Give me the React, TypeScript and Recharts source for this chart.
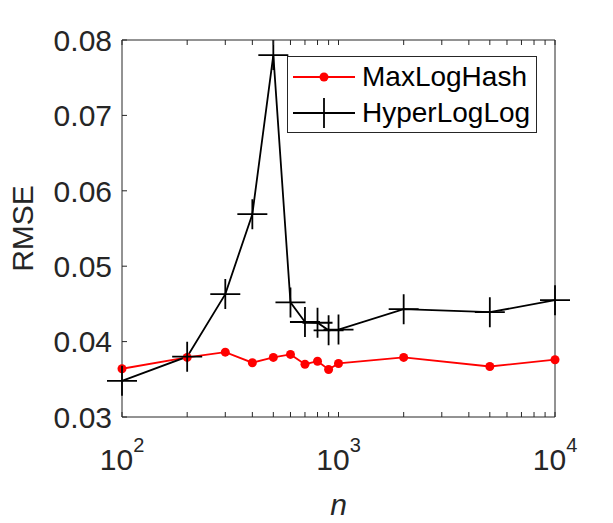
import { Legend, Line, LineChart, XAxis, YAxis } from "recharts";

const nValues = [100, 200, 300, 400, 500, 600, 700, 800, 900, 1000, 2000, 5000, 10000];
const maxLogHash = [
  0.0364, 0.0379, 0.0386, 0.0372, 0.0379, 0.0383, 0.037, 0.0374, 0.0363, 0.0371, 0.0379,
  0.0367, 0.0376,
];
const hyperLogLog = [
  0.0348, 0.038, 0.0463, 0.0569, 0.078, 0.0452, 0.0426, 0.0425, 0.0415, 0.0416, 0.0443,
  0.0439, 0.0455,
];
const xTicks = [
  100, 200, 300, 400, 500, 600, 700, 800, 900, 1000, 2000, 3000, 4000, 5000, 6000, 7000,
  8000, 9000, 10000,
];
const xMajor = [100, 1000, 10000];
const yTicks = [0.03, 0.04, 0.05, 0.06, 0.07, 0.08];

const rows = nValues.map((n, i) => ({
  n,
  maxLogHash: maxLogHash[i],
  hyperLogLog: hyperLogLog[i],
}));

const FONT = '"Liberation Sans", Arial, Helvetica, sans-serif';
const AXIS = "#262626";
const TICK = 5;
const RED = "#ff0000";

function BottomTick({ x, y, payload }: any) {
  const v = payload.value;
  const major = xMajor.includes(v);
  return (
    <g>
      <line x1={x} x2={x} y1={y} y2={y - TICK} stroke={AXIS} strokeWidth={1} />
      {major && (
        <text x={x} y={y + 53} textAnchor="middle" fontSize={30} fill={AXIS}>
          10
          <tspan dy={-18} fontSize={20}>
            {Math.round(Math.log10(v))}
          </tspan>
        </text>
      )}
    </g>
  );
}

function TopTick({ x, y }: any) {
  return <line x1={x} x2={x} y1={y} y2={y + TICK} stroke={AXIS} strokeWidth={1} />;
}

function LeftTick({ x, y, payload }: any) {
  return (
    <g>
      <line x1={x} x2={x + TICK} y1={y} y2={y} stroke={AXIS} strokeWidth={1} />
      <text x={x - 10} y={y} dy="0.36em" textAnchor="end" fontSize={30} fill={AXIS}>
        {Number(payload.value).toFixed(2)}
      </text>
    </g>
  );
}

function RightTick({ x, y }: any) {
  return <line x1={x} x2={x - TICK} y1={y} y2={y} stroke={AXIS} strokeWidth={1} />;
}

function YLabel(props: any) {
  const vb = props.viewBox ?? { x: 0, y: 40, width: 122, height: 377 };
  const cx = vb.x + 33;
  const cy = vb.y + vb.height / 2;
  return (
    <text
      x={cx}
      y={cy}
      transform={`rotate(-90 ${cx} ${cy})`}
      textAnchor="middle"
      fontSize={30}
      fill={AXIS}
    >
      RMSE
    </text>
  );
}

function XLabel(props: any) {
  const vb = props.viewBox ?? { x: 122, y: 417, width: 433, height: 106 };
  return (
    <text
      x={vb.x + vb.width / 2}
      y={vb.y + vb.height - 8}
      textAnchor="middle"
      fontSize={30}
      fontStyle="italic"
      fill={AXIS}
    >
      n
    </text>
  );
}

function PlusDot({ cx, cy }: any) {
  if (cx == null || cy == null) return null;
  return (
    <path
      d={`M${cx - 15},${cy}H${cx + 15}M${cx},${cy - 15}V${cy + 15}`}
      stroke="#000"
      strokeWidth={1.8}
      fill="none"
    />
  );
}

function LegendBox() {
  const row = { display: "flex", alignItems: "center", height: 36 } as const;
  return (
    <div
      style={{
        boxSizing: "border-box",
        width: 250,
        height: 77,
        border: `1px solid ${AXIS}`,
        background: "#fff",
        paddingTop: 2,
        fontFamily: FONT,
        fontSize: 28,
        lineHeight: 1,
        color: "#000",
      }}
    >
      <div style={row}>
        <svg width={74} height={36}>
          <line x1={5} x2={67} y1={18} y2={18} stroke={RED} strokeWidth={1.8} />
          <circle cx={36} cy={18} r={4.5} fill={RED} />
        </svg>
        <span>MaxLogHash</span>
      </div>
      <div style={row}>
        <svg width={74} height={36}>
          <line x1={5} x2={67} y1={18} y2={18} stroke="#000" strokeWidth={1.8} />
          <line x1={36} x2={36} y1={3} y2={33} stroke="#000" strokeWidth={1.8} />
        </svg>
        <span>HyperLogLog</span>
      </div>
    </div>
  );
}

export default function App() {
  return (
    <div style={{ position: "absolute", left: 0, top: 0, fontFamily: FONT, background: "#fff" }}>
      <LineChart
        width={613}
        height={523}
        data={rows}
        margin={{ top: 39, right: 57, bottom: 0, left: 0 }}
      >
        <XAxis
          dataKey="n"
          type="number"
          scale="log"
          domain={[100, 10000]}
          ticks={xTicks}
          interval={0}
          height={106}
          tickSize={0}
          tickMargin={0}
          tickLine={false}
          tick={<BottomTick />}
          axisLine={{ stroke: AXIS, strokeWidth: 1 }}
          label={<XLabel />}
        />
        <XAxis
          xAxisId="top"
          dataKey="n"
          orientation="top"
          type="number"
          scale="log"
          domain={[100, 10000]}
          ticks={xTicks}
          interval={0}
          height={1}
          tickSize={0}
          tickMargin={0}
          tickLine={false}
          tick={<TopTick />}
          axisLine={{ stroke: AXIS, strokeWidth: 1 }}
        />
        <YAxis
          type="number"
          domain={[0.03, 0.08]}
          ticks={yTicks}
          interval={0}
          width={122}
          tickSize={0}
          tickMargin={0}
          tickLine={false}
          tick={<LeftTick />}
          axisLine={{ stroke: AXIS, strokeWidth: 1 }}
          label={<YLabel />}
        />
        <YAxis
          yAxisId="right"
          orientation="right"
          type="number"
          domain={[0.03, 0.08]}
          ticks={yTicks}
          interval={0}
          width={1}
          tickSize={0}
          tickMargin={0}
          tickLine={false}
          tick={<RightTick />}
          axisLine={{ stroke: AXIS, strokeWidth: 1 }}
        />
        <Line
          dataKey="maxLogHash"
          stroke={RED}
          strokeWidth={1.8}
          dot={{ r: 4.5, fill: RED, stroke: RED, strokeWidth: 0 }}
          isAnimationActive={false}
        />
        <Line
          dataKey="hyperLogLog"
          stroke="#000"
          strokeWidth={1.8}
          dot={<PlusDot />}
          isAnimationActive={false}
        />
        <Legend
          layout="vertical"
          align="center"
          verticalAlign="middle"
          content={<LegendBox />}
          wrapperStyle={{ left: 287, top: 56, width: 250, height: 77 }}
        />
      </LineChart>
    </div>
  );
}
